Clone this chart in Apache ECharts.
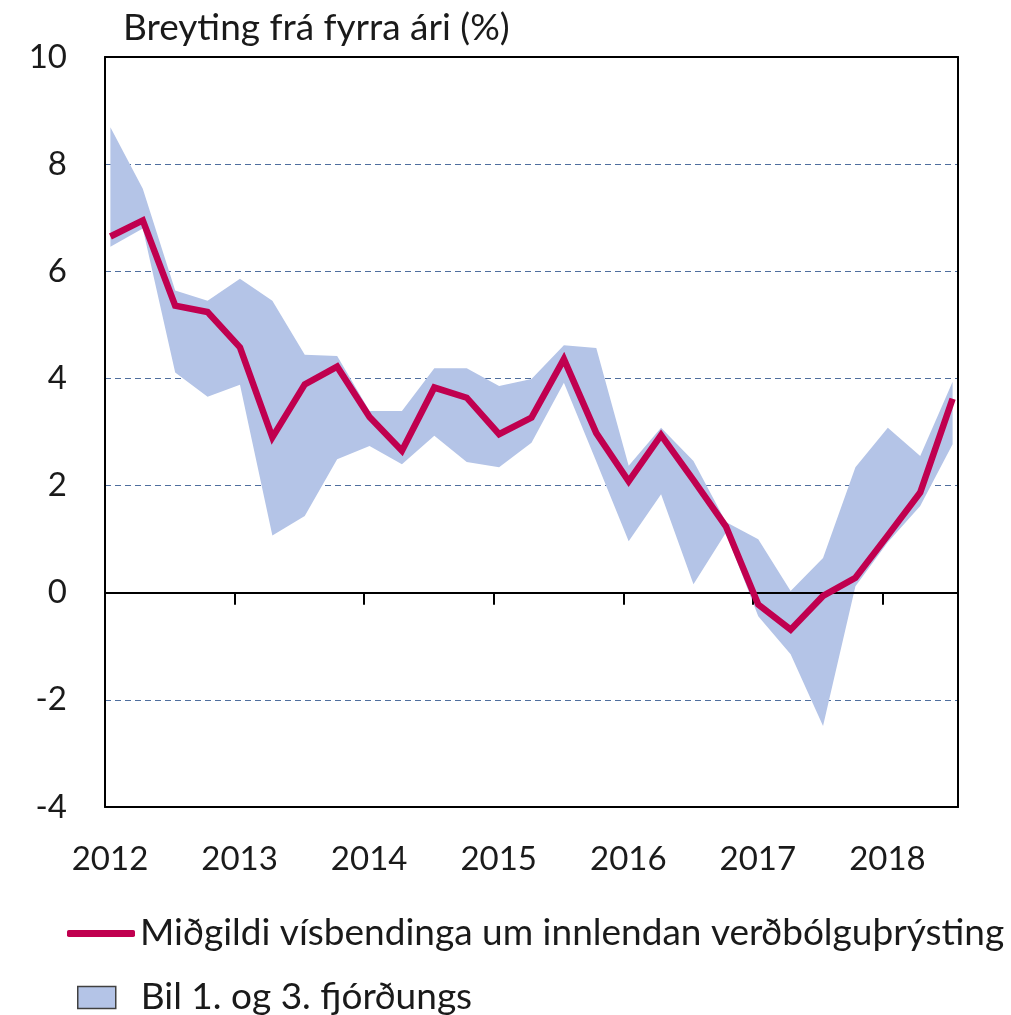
<!DOCTYPE html>
<html><head><meta charset="utf-8">
<script src="https://cdn.jsdelivr.net/npm/echarts@6/dist/echarts.min.js"></script>
<style>html,body{margin:0;padding:0;background:#fff}#c{width:1011px;height:1015px}</style>
</head><body><div id="c"></div>
<script>
const quarters = ['2012Q1','2012Q2','2012Q3','2012Q4','2013Q1','2013Q2','2013Q3','2013Q4',
  '2014Q1','2014Q2','2014Q3','2014Q4','2015Q1','2015Q2','2015Q3','2015Q4',
  '2016Q1','2016Q2','2016Q3','2016Q4','2017Q1','2017Q2','2017Q3','2017Q4',
  '2018Q1','2018Q2','2018Q3'];
const median = [6.65,6.95,5.36,5.24,4.58,2.90,3.89,4.22,3.28,2.65,3.83,3.64,2.96,3.27,4.36,2.98,
  2.08,2.94,2.10,1.24,-0.22,-0.69,-0.06,0.28,1.07,1.87,3.62];
const lowerQ1 = [6.46,6.80,4.11,3.66,3.88,1.07,1.43,2.49,2.74,2.40,2.93,2.44,2.34,2.80,3.92,2.45,
  0.96,1.84,0.16,1.12,-0.44,-1.15,-2.49,0.12,0.94,1.62,2.77];
const upperQ3 = [8.69,7.54,5.64,5.45,5.86,5.45,4.44,4.42,3.39,3.39,4.19,4.19,3.86,3.99,4.62,4.57,
  2.37,3.08,2.46,1.32,1.00,0.03,0.65,2.34,3.08,2.55,3.94];
const yearLabels = ['2012','2013','2014','2015','2016','2017','2018'];
const titleText = 'Breyting frá fyrra ári (%)';
const medianName = 'Miðgildi vísbendinga um innlendan verðbólguþrýsting';
const bandName = 'Bil 1. og 3. fjórðungs';

// x position in months since Jan 2012 (mid-month of first month in quarter)
function qx(q){ const y=+q.slice(0,4), n=+q.slice(5); return (y-2012)*12+(n-1)*3+0.5; }
const X_MIN = 0, X_MAX = 79;

const FONT = 'Lato';
const BAND_COLOR = '#B4C4E7';
const LINE_COLOR = '#C0004F';
const chart = echarts.init(document.getElementById('c'), null, {renderer:'canvas'});
const xBase = {type:'value', min:X_MIN, max:X_MAX, interval:12, splitLine:{show:false}};
const bandData = quarters.map((q,i)=>[qx(q), lowerQ1[i], upperQ3[i]]);
chart.setOption({
  animation:false,
  backgroundColor:'#fff',
  textStyle:{fontFamily:FONT},
  title:{text:titleText, left:123, top:10, padding:0,
    textStyle:{fontFamily:FONT, fontSize:37, fontWeight:'normal', color:'#1a1a1a'}},
  grid:{left:105, right:53, top:57, bottom:208, containLabel:false},
  legend:[
    {data:[{name:medianName, itemStyle:{color:LINE_COLOR}}], left:67, top:915, padding:0,
      icon:'roundRect', itemWidth:68, itemHeight:7, selectedMode:false,
      textStyle:{fontFamily:FONT, fontSize:37, color:'#1a1a1a'}},
    {data:[{name:bandName, icon:'rect', itemStyle:{color:BAND_COLOR, borderColor:'#404040', borderWidth:1.5}}],
      left:77, top:979, padding:0, itemWidth:38, itemHeight:22, selectedMode:false,
      textStyle:{fontFamily:FONT, fontSize:37, color:'#1a1a1a', padding:[0,0,0,20]}}
  ],
  xAxis:[
    Object.assign({}, xBase, {position:'bottom', z:5,
      axisLine:{onZero:true, lineStyle:{color:'#000', width:2}},
      axisTick:{show:true, length:12, inside:false, lineStyle:{color:'#000', width:2}},
      axisLabel:{show:false}}),
    Object.assign({}, xBase, {position:'bottom', z:5,
      axisLine:{onZero:false, lineStyle:{color:'#000', width:2}},
      axisTick:{show:false},
      axisLabel:{show:true, margin:36, fontFamily:FONT, fontSize:33, color:'#1a1a1a', padding:[0,0,0,10],
        formatter:v=> (v%12===0 ? yearLabels[v/12] : '')}}),
    Object.assign({}, xBase, {position:'top', z:5,
      axisLine:{onZero:false, lineStyle:{color:'#000', width:2}},
      axisTick:{show:false}, axisLabel:{show:false}})
  ],
  yAxis:[
    {type:'value', min:-4, max:10, interval:2, position:'left', z:1,
      axisLine:{show:true, onZero:false, lineStyle:{color:'#000', width:2}},
      axisTick:{show:false},
      axisLabel:{margin:38, fontFamily:FONT, fontSize:33, color:'#1a1a1a'},
      splitLine:{show:true, showMinLine:false, showMaxLine:false, lineStyle:{color:'#4F6E9E', width:1.2, type:[6,4]}}},
    {type:'value', min:-4, max:10, interval:2, position:'right', z:5,
      axisLine:{show:true, onZero:false, lineStyle:{color:'#000', width:2}},
      axisTick:{show:false}, axisLabel:{show:false}, splitLine:{show:false}}
  ],
  series:[
    {name:bandName, type:'custom', z:2, silent:true, clip:true,
      itemStyle:{color:BAND_COLOR},
      encode:{x:0, y:[1,2]},
      data:bandData,
      renderItem:(params, api)=>{
        if (params.dataIndex !== 0) return;
        const pts = [];
        for (let i=0;i<bandData.length;i++) pts.push(api.coord([bandData[i][0], bandData[i][2]]));
        for (let i=bandData.length-1;i>=0;i--) pts.push(api.coord([bandData[i][0], bandData[i][1]]));
        return {type:'polygon', shape:{points:pts}, style:{fill:BAND_COLOR}};
      }},
    {name:medianName, type:'line', symbol:'none', color:LINE_COLOR, z:6,
      lineStyle:{color:LINE_COLOR, width:6.5, join:'miter'}, data:quarters.map((q,i)=>[qx(q), median[i]])}
  ]
});
</script></body></html>
